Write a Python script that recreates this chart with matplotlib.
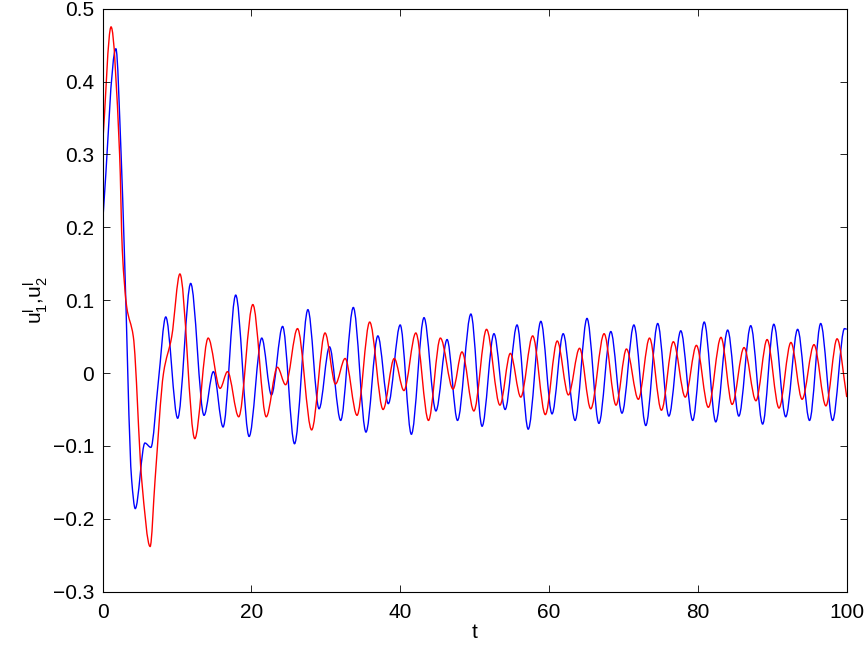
import numpy as np
import matplotlib
matplotlib.use("Agg")
import matplotlib.pyplot as plt
from matplotlib.path import Path
from matplotlib.patches import PathPatch

# values (local extrema and a few shape points)
blue_t = [0, 1.8, 2.5, 2.93, 3.92, 4.4, 5.7, 6.5, 7.5, 8.5, 10.1, 11.85,
          13.64, 14.9, 16.2, 17.9, 19.7, 21.4, 22.7, 24.2, 25.8, 27.6, 29.1, 30.5,
          32.0, 33.7, 35.4, 37.0, 38.4, 40.0, 41.5, 43.2, 44.8, 46.3, 47.7, 49.5,
          51.0, 52.6, 54.1, 55.7, 57.2, 58.9, 60.4, 61.9, 63.5, 65.1, 66.7, 68.3,
          69.8, 71.4, 73.0, 74.6, 76.1, 77.7, 79.3, 80.85, 82.4, 84.0, 85.5, 87.1,
          88.7, 90.2, 91.8, 93.4, 95.0, 96.5, 98.1, 99.7, 100]
blue_v = [0.203, 0.445, 0.30, 0.169, -0.147, -0.186, -0.096, -0.102, -0.012, 0.077, -0.062, 0.123,
          -0.058, 0.002, -0.074, 0.107, -0.087, 0.048, -0.030, 0.064, -0.097, 0.087, -0.049, 0.036,
          -0.065, 0.090, -0.081, 0.051, -0.042, 0.066, -0.084, 0.076, -0.052, 0.046, -0.065, 0.081,
          -0.073, 0.054, -0.050, 0.066, -0.077, 0.071, -0.056, 0.054, -0.065, 0.075, -0.069, 0.057,
          -0.055, 0.066, -0.072, 0.068, -0.059, 0.058, -0.065, 0.070, -0.067, 0.059, -0.059, 0.065,
          -0.070, 0.067, -0.060, 0.060, -0.065, 0.068, -0.065, 0.061, 0.060]

red_t = [0, 1.15, 2.3, 2.66, 3.25, 4.14, 5.27, 6.4, 7.06, 8.2, 9.3, 10.4,
         12.4, 14.2, 15.8, 16.8, 18.3, 20.2, 22.0, 23.5, 24.6, 26.2, 28.1, 29.9,
         31.3, 32.6, 34.2, 35.9, 37.7, 39.2, 40.5, 42.1, 43.8, 45.4, 47.1, 48.3,
         49.9, 51.6, 53.4, 54.8, 56.2, 57.8, 59.5, 61.1, 62.6, 64.1, 65.6, 67.4,
         69.0, 70.4, 72.0, 73.5, 75.1, 76.7, 78.3, 79.8, 81.4, 83.1, 84.6, 86.2,
         87.8, 89.3, 90.9, 92.5, 94.0, 95.6, 97.2, 98.7, 100]
red_v = [0.31, 0.475, 0.30, 0.169, 0.091, 0.05, -0.147, -0.238, -0.147, 0.0, 0.05, 0.136,
         -0.090, 0.048, -0.021, 0.002, -0.060, 0.094, -0.060, 0.008, -0.016, 0.061, -0.078, 0.055,
         -0.015, 0.020, -0.058, 0.070, -0.050, 0.020, -0.024, 0.055, -0.065, 0.048, -0.022, 0.029,
         -0.052, 0.060, -0.044, 0.027, -0.033, 0.051, -0.057, 0.044, -0.030, 0.034, -0.049, 0.054,
         -0.044, 0.033, -0.036, 0.048, -0.051, 0.043, -0.033, 0.038, -0.047, 0.049, -0.043, 0.035,
         -0.038, 0.046, -0.048, 0.042, -0.036, 0.039, -0.045, 0.047, -0.033]

x_ticks = [0, 20, 40, 60, 80, 100]
y_ticks = [-0.3, -0.2, -0.1, 0, 0.1, 0.2, 0.3, 0.4, 0.5]
x_label = "t"
y_label = r"$u^{l}_{1}{,}u^{l}_{2}$"

plt.rcParams['font.family'] = ['Liberation Sans', 'DejaVu Sans']
plt.rcParams['mathtext.default'] = 'regular'


def smooth_curve(t, v):
    """Monotone cubic (PCHIP-style) Bezier path through the given points."""
    t = np.asarray(t, float)
    v = np.asarray(v, float)
    h = np.diff(t)
    d = np.diff(v) / h
    m = np.zeros_like(v)
    m[0], m[-1] = d[0], d[-1]
    for i in range(1, len(v) - 1):
        if d[i - 1] * d[i] > 0:
            w1 = 2 * h[i] + h[i - 1]
            w2 = h[i] + 2 * h[i - 1]
            m[i] = (w1 + w2) / (w1 / d[i - 1] + w2 / d[i])
    verts = [(t[0], v[0])]
    codes = [Path.MOVETO]
    for i in range(len(h)):
        verts += [(t[i] + h[i] / 3, v[i] + m[i] * h[i] / 3),
                  (t[i + 1] - h[i] / 3, v[i + 1] - m[i + 1] * h[i] / 3),
                  (t[i + 1], v[i + 1])]
        codes += [Path.CURVE4] * 3
    return Path(verts, codes)


fig = plt.figure(figsize=(8.65, 6.48), dpi=100)
ax = fig.add_axes([0.1185, 0.0869, 0.8604, 0.8997])

ax.add_patch(PathPatch(smooth_curve(blue_t, blue_v), fill=False,
                       edgecolor=(0, 0, 1), lw=1.0))
ax.add_patch(PathPatch(smooth_curve(red_t, red_v), fill=False,
                       edgecolor=(1, 0, 0), lw=1.0))

ax.set_xlim(0, 100)
ax.set_ylim(-0.3, 0.5)
ax.set_xticks(x_ticks)
ax.set_yticks(y_ticks)
ax.set_xticklabels([f"{x:g}" for x in x_ticks])
ax.set_yticklabels([f"{y:g}".replace("-", "\u2212") for y in y_ticks])
ax.tick_params(direction='in', top=True, right=True, length=5.3, width=0.6,
               labelsize=15, pad=6)
ax.tick_params(axis='x', pad=8)
for s in ax.spines.values():
    s.set_linewidth(0.8)

ax.set_xlabel(x_label, fontsize=15, labelpad=1)
ax.set_ylabel(y_label, fontsize=15, labelpad=2)

fig.savefig("out.png", dpi=100, facecolor='white')
